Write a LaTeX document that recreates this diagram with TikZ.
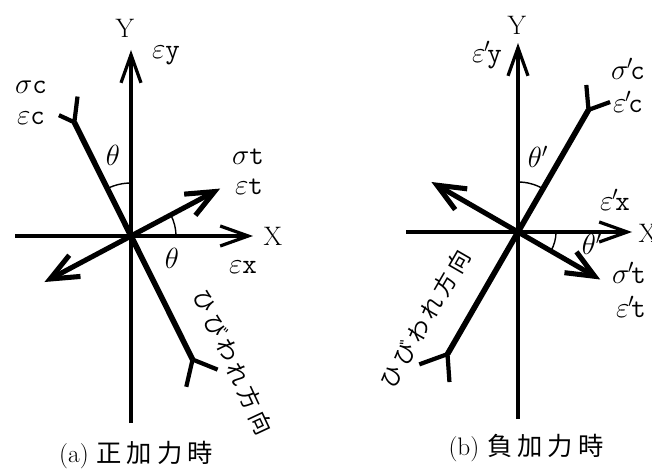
\documentclass[tikz,border=0pt]{standalone}
\usepackage{fontspec}
\usepackage{amsmath}
\usetikzlibrary{arrows.meta, calc}
\newfontfamily\jpfont[LetterSpace=20]{Noto Sans CJK JP}
\newcommand{\prm}[2]{#1\kern-0.05em$^{\prime}$\kern-0.1em#2}

\begin{document}
\begin{tikzpicture}[x=0.025cm, y=0.025cm,
  axis/.style={line width=2.3pt, -{Straight Barb[length=0.7cm, width=0.5cm]}},
  force/.style={line width=3.6pt, {Straight Barb[length=0.7cm, width=0.6cm]}-{Straight Barb[length=0.7cm, width=0.6cm]}},
  crack/.style={line width=4pt},
  fork/.style={line width=3pt},
  ang/.style={line width=1pt},
  lbl/.style={font=\fontsize{20}{22}\selectfont\ttfamily, inner sep=0pt},
  axlbl/.style={font=\fontsize{19}{21}\selectfont, inner sep=0pt},
  jp/.style={font=\fontsize{16}{18}\selectfont\jpfont, inner sep=0pt},
  caption/.style={font=\fontsize{18}{21}\selectfont, inner sep=0pt}
]
  \useasboundingbox (0,0) rectangle (652,468);

  % (a) positive loading
  \coordinate (O1) at (131,232);
  \draw[axis] (O1) ++(0,-187) -- ++(0,373);
  \draw[axis] (O1) ++(-116,0) -- ++(238,0);
  \draw[crack] (O1) ++(116.5:127) coordinate (c1) -- ++(-63.5:265) coordinate (c2);
  \draw[fork] (c1) -- ++(83:26) (c1) -- ++(155:17);
  \draw[fork] (c2) -- ++(-22:27) (c2) -- ++(-103:28);
  \draw[force] (O1) ++(208:98) -- ++(28:199);
  \draw[ang] (O1) ++(90:53) arc[start angle=90, end angle=116.5, radius=53];
  \draw[ang] (O1) ++(0:45) arc[start angle=0, end angle=28, radius=45];

  \node[axlbl] (ya) at (125,440) {Y};
  \node[axlbl] (xa) at (273,232) {X};
  \node[lbl] (eya) at (166,413) {$\varepsilon$y};
  \node[lbl] (exa) at (243,201) {$\varepsilon$x};
  \node[lbl] (sca) at (31,381)  {$\sigma$c};
  \node[lbl] (eca) at (31,350)  {$\varepsilon$c};
  \node[lbl] (sta) at (248,311) {$\sigma$t};
  \node[lbl] (eta) at (249,281) {$\varepsilon$t};
  \node[lbl] (tha) at (113,313) {$\theta$};
  \node[lbl] (thb) at (172,210) {$\theta$};
  \node[jp, rotate=-65] (dira) at (233,106) {ひびわれ方向};
  \node[caption] (capa) at (136,13) {(a)\ {\jpfont 正加力時}};

  % (b) negative loading
  \coordinate (O2) at (518,236);
  \draw[axis] (O2) ++(0,-187) -- ++(0,376);
  \draw[axis] (O2) ++(-112,0) -- ++(226,0);
  \draw[crack] (O2) ++(240:141) coordinate (c4) -- ++(60:282) coordinate (c3);
  \draw[fork] (c3) -- ++(95:25) (c3) -- ++(20:23);
  \draw[fork] (c4) -- ++(200:30) (c4) -- ++(274:28);
  \draw[force] (O2) ++(150:100) -- ++(-30:195);
  \draw[ang] (O2) ++(60:50) arc[start angle=60, end angle=90, radius=50];
  \draw[ang] (O2) ++(-30:38) arc[start angle=-30, end angle=0, radius=38];

  \node[axlbl] (yb) at (517,443) {Y};
  \node[axlbl] (xb) at (648,235) {X};
  \node[lbl] (eyb) at (487,413) {\prm{$\varepsilon$}{y}};
  \node[lbl] (exb) at (615,268) {\prm{$\varepsilon$}{x}};
  \node[lbl] (scb) at (628,399) {\prm{$\sigma$}{c}};
  \node[lbl] (ecb) at (628,366) {\prm{$\varepsilon$}{c}};
  \node[lbl] (stb) at (629,195) {\prm{$\sigma$}{t}};
  \node[lbl] (etb) at (631,161) {\prm{$\varepsilon$}{t}};
  \node[lbl] (thc) at (538,311) {$\theta'$};
  \node[lbl] (thd) at (592,224) {$\theta'$};
  \node[jp, rotate=60] (dirb) at (425,149) {ひびわれ方向};
  \node[caption] (capb) at (526,20) {(b)\ {\jpfont 負加力時}};
\end{tikzpicture}
\end{document}
